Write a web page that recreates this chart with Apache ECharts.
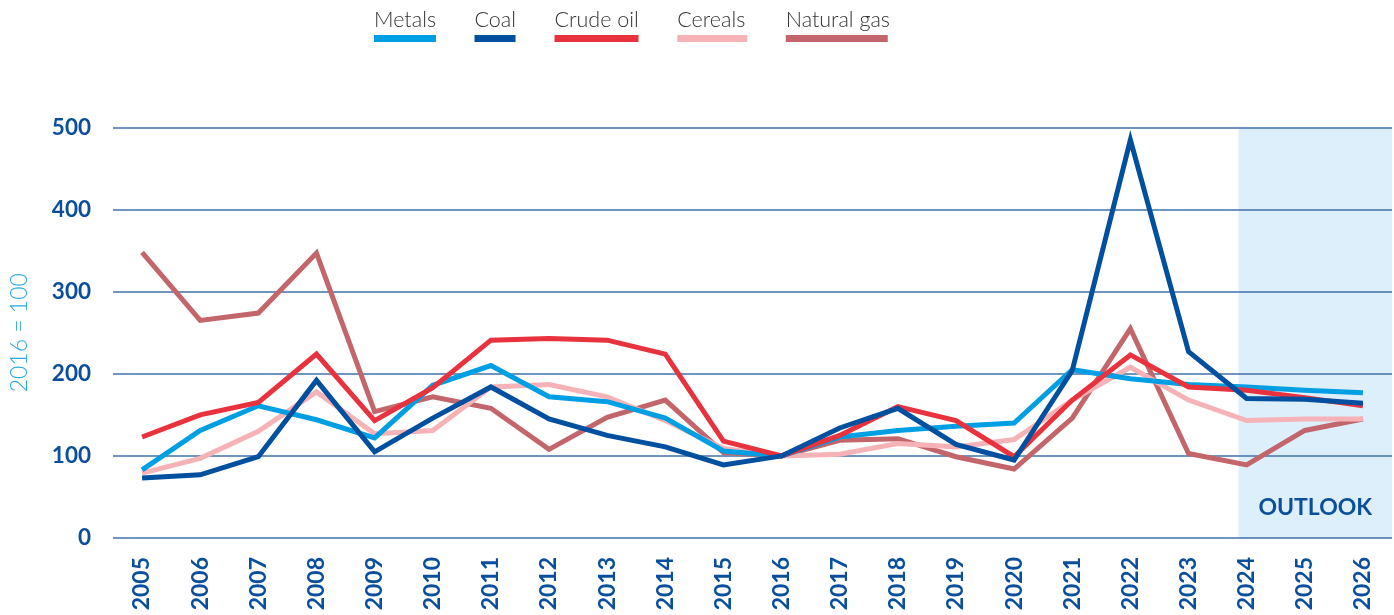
<!DOCTYPE html>
<html>
<head>
<meta charset="utf-8">
<script src="https://cdn.jsdelivr.net/npm/echarts@6/dist/echarts.min.js"></script>
<style>
html,body{margin:0;padding:0;background:#fff;}
#chart{width:1394px;height:615px;}
</style>
</head>
<body>
<div id="chart"></div>
<script>
const years = ['2005','2006','2007','2008','2009','2010','2011','2012','2013','2014','2015','2016','2017','2018','2019','2020','2021','2022','2023','2024','2025','2026'];
const metals     = [83, 131, 161, 144, 122, 186, 210, 172, 166, 146, 106, 100, 123, 131, 136, 140, 205, 194, 187, 184, 180, 177];
const coal       = [73, 77, 99, 192, 105, 146, 184, 145, 125, 111, 89, 100, 134, 158, 114, 95, 204, 485, 227, 170, 169, 164];
const crudeOil   = [123, 150, 165, 224, 143, 183, 241, 243, 241, 224, 118, 100, 125, 160, 143, 99, 168, 223, 184, 180, 171, 161];
const cereals    = [79, 97, 130, 178, 127, 131, 184, 187, 172, 143, 109, 100, 102, 115, 111, 120, 168, 208, 168, 143, 145, 145];
const naturalGas = [348, 265, 274, 347, 154, 172, 158, 108, 147, 168, 104, 100, 119, 121, 99, 84, 146, 255, 103, 89, 131, 145];
const yTicks = [0, 100, 200, 300, 400, 500];
const outlookStart = 18.86; // position on index scale where outlook shading begins
const outlookEnd = 21.5;

const colors = {
  'Metals': '#009fe3',
  'Coal': '#00509f',
  'Crude oil': '#e8333f',
  'Cereals': '#f5b3b8',
  'Natural gas': '#c3666c'
};
const barWidths = {'Metals': 62, 'Coal': 41, 'Crude oil': 84, 'Cereals': 70, 'Natural gas': 102};
const keys = {'Metals': 'bm', 'Coal': 'bc', 'Crude oil': 'bo', 'Cereals': 'bce', 'Natural gas': 'bn'};
const rich = {
  t: {fontFamily: 'Lato', fontSize: 21.5, fontWeight: 300, color: '#333333', lineHeight: 27}
};
Object.keys(keys).forEach(n => {
  rich[keys[n]] = {width: barWidths[n], height: 7, backgroundColor: colors[n], lineHeight: 10};
});

const navy = '#0b4f9c';
const chart = echarts.init(document.getElementById('chart'));
function line(name, data, z) {
  return {
    name: name, type: 'line', data: data, xAxisIndex: 0, yAxisIndex: 0,
    symbol: 'none', z: z,
    lineStyle: {width: 5, color: colors[name], join: 'miter'},
    itemStyle: {color: colors[name]}
  };
}
chart.setOption({
  animation: false,
  backgroundColor: '#ffffff',
  grid: {left: 110, right: 2, top: 127.5, bottom: 77},
  legend: {
    left: 364, top: 4,
    itemWidth: 0, itemHeight: 0, itemGap: 33.5,
    icon: 'rect',
    data: ['Metals', 'Coal', 'Crude oil', 'Cereals', 'Natural gas'],
    formatter: n => '{t|' + n + '}\n{' + keys[n] + '|}',
    textStyle: {rich: rich}
  },
  xAxis: [{
    type: 'category', data: years, boundaryGap: true,
    axisLine: {show: false}, axisTick: {show: false},
    axisLabel: {rotate: 90, margin: 19, fontFamily: 'Lato', fontWeight: 'bold', fontSize: 23, color: navy, interval: 0}
  }, {
    type: 'value', min: -0.5, max: 21.5, show: false
  }],
  yAxis: {
    type: 'value', min: 0, max: 500, interval: 100, z: 3,
    name: '2016 = 100', nameLocation: 'middle', nameGap: 82,
    nameTextStyle: {fontFamily: 'Lato', fontSize: 23, fontWeight: 300, color: '#2aa8e0'},
    axisLine: {show: false}, axisTick: {show: false},
    axisLabel: {margin: 22, fontFamily: 'Lato', fontWeight: 'bold', fontSize: 22.5, color: navy,
      formatter: v => yTicks.includes(v) ? String(v) : ''},
    splitLine: {lineStyle: {color: '#3f70a9', width: 1.5}}
  },
  series: [
    {
      name: 'outlook', type: 'line', xAxisIndex: 1, yAxisIndex: 0, data: [], z: -1,
      markArea: {
        silent: true, z: -1,
        itemStyle: {color: '#ddeffb'},
        label: {show: true, position: 'insideBottom', distance: 19, color: navy,
          fontFamily: 'Lato', fontWeight: 'bold', fontSize: 23},
        data: [[{xAxis: outlookStart, name: 'OUTLOOK'}, {xAxis: outlookEnd}]]
      }
    },
    line('Natural gas', naturalGas, 4),
    line('Cereals', cereals, 5),
    line('Metals', metals, 6),
    line('Crude oil', crudeOil, 7),
    line('Coal', coal, 8)
  ]
});
</script>
</body>
</html>
